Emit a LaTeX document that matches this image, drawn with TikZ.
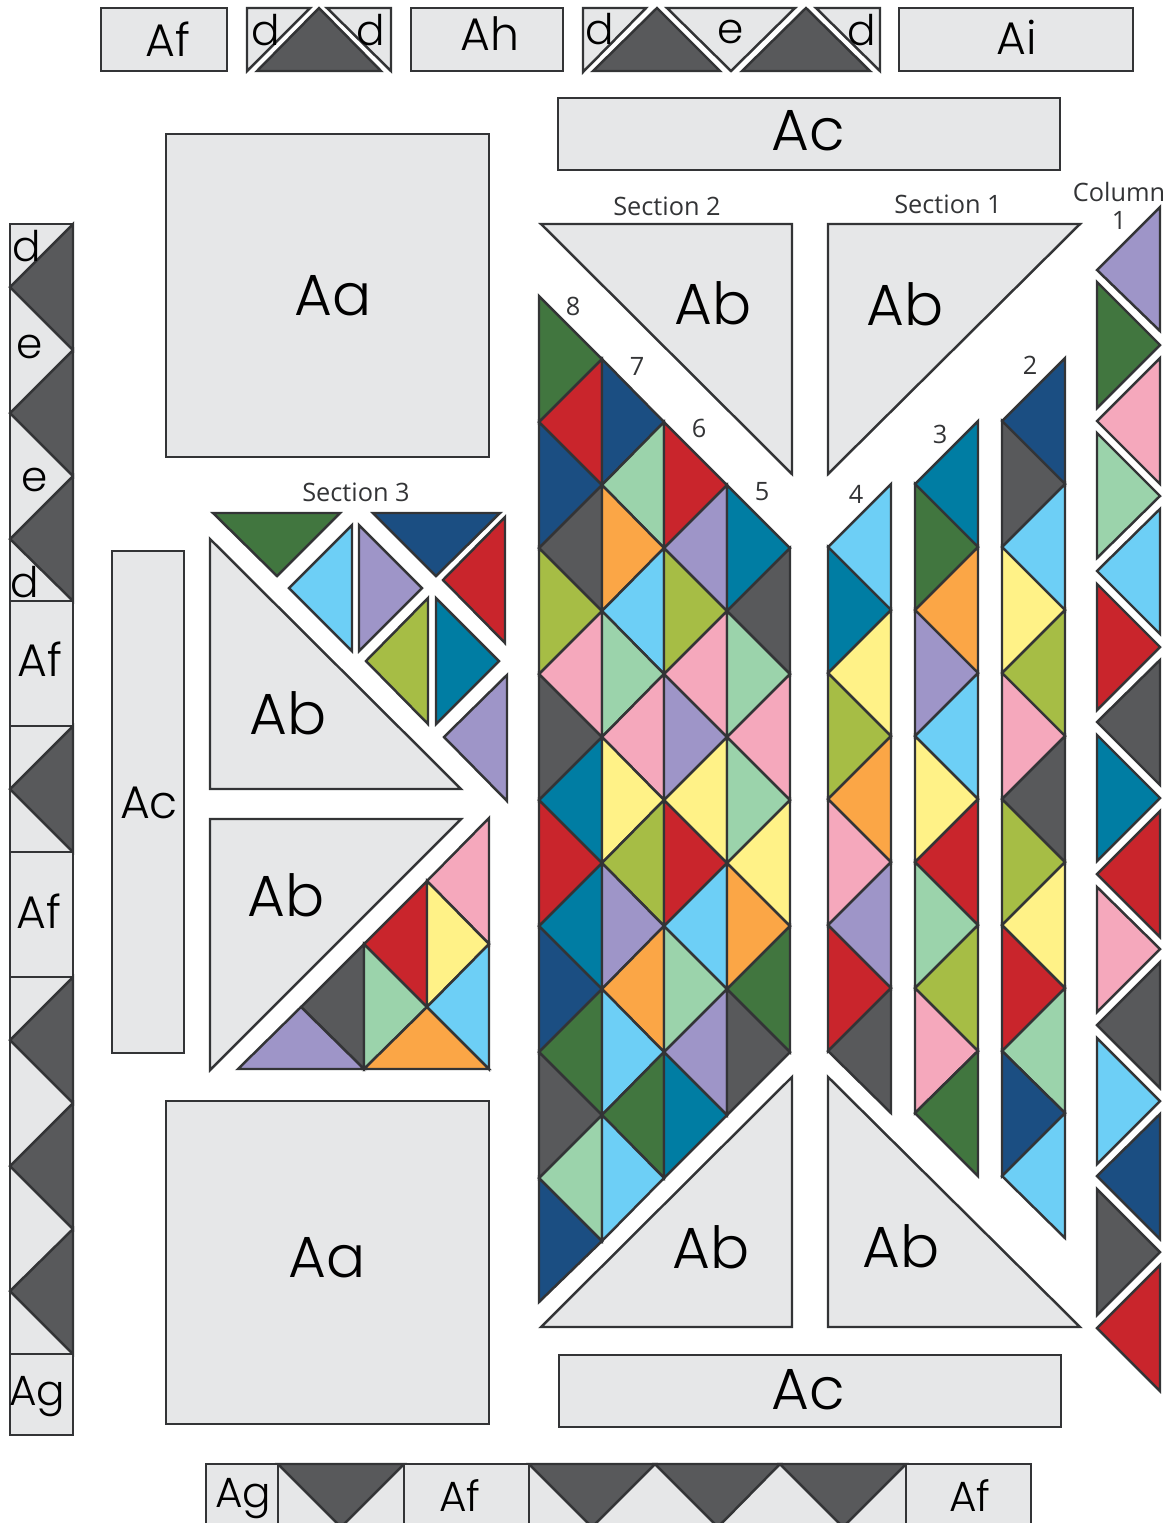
\documentclass[tikz,border=0pt]{standalone}
\usepackage{fontspec}
\setmainfont{Open Sans}
\newfontfamily\tagfont{Poppins Light}
\definecolor{edge}{HTML}{333436}
\definecolor{plain}{HTML}{E6E7E8}
\definecolor{slate}{HTML}{58595B}
\definecolor{forest}{HTML}{41763F}
\definecolor{scarlet}{HTML}{C9252C}
\definecolor{navy}{HTML}{1B4E82}
\definecolor{sea}{HTML}{007DA3}
\definecolor{sky}{HTML}{6DCFF6}
\definecolor{lilac}{HTML}{9E95C8}
\definecolor{lime}{HTML}{A6BD45}
\definecolor{rose}{HTML}{F5A8BC}
\definecolor{mint}{HTML}{9BD3AB}
\definecolor{amber}{HTML}{FBA646}
\definecolor{butter}{HTML}{FFF287}
\tikzset{
	patch/.style={draw=edge, line width=0.7pt, fill=#1},
	patch/.default=plain,
	bigtag/.style={inner sep=0pt, font=\tagfont\fontsize{16.5}{18}\selectfont},
	midtag/.style={inner sep=0pt, font=\tagfont\fontsize{13}{15}\selectfont},
	lowtag/.style={inner sep=0pt, font=\tagfont\fontsize{12}{14}\selectfont},
	smalltag/.style={inner sep=0pt, font=\fontsize{7.2}{8}\selectfont, text=edge},
}
\begin{document}
\begin{tikzpicture}[x=0.01cm, y=-0.01cm]
	\clip (0,0) rectangle (1170,1523);
	% Top strip:
	\draw[patch] (101,8) rectangle (227,71);
	\draw[patch] (247,8) -- (310,8) -- (247,71) -- cycle;
	\draw[patch=slate] (319,8) -- (381,71) -- (257,71) -- cycle;
	\draw[patch] (327,8) -- (391,8) -- (391,71) -- cycle;
	\draw[patch] (411,8) rectangle (563,71);
	\draw[patch] (583,8) -- (646,8) -- (583,72) -- cycle;
	\draw[patch=slate] (657,8) -- (720,71) -- (593,71) -- cycle;
	\draw[patch] (667,8) -- (795,8) -- (731,71) -- cycle;
	\draw[patch=slate] (806,8) -- (870,71) -- (742,71) -- cycle;
	\draw[patch] (816,8) -- (880,8) -- (880,71) -- cycle;
	\draw[patch] (899,8) rectangle (1133,71);
	% Plain blocks:
	\draw[patch] (558,98) rectangle (1060,170);
	\draw[patch] (559,1355) rectangle (1061,1427);
	\draw[patch] (112,551) rectangle (184,1053);
	\draw[patch] (166,134) rectangle (489,457);
	\draw[patch] (166,1101) rectangle (489,1424);
	\draw[patch] (541,224) -- (792,224) -- (792,474) -- cycle;
	\draw[patch] (828,224) -- (1080,224) -- (828,474) -- cycle;
	\draw[patch] (792,1077) -- (792,1327) -- (541,1327) -- cycle;
	\draw[patch] (828,1077) -- (1080,1327) -- (828,1327) -- cycle;
	\draw[patch] (210,539) -- (210,789) -- (461,789) -- cycle;
	\draw[patch] (210,819) -- (461,819) -- (210,1070) -- cycle;
	% Left strip:
	\draw[patch] (10,224) rectangle (73,601);
	\draw[patch=slate] (73,224) -- (73,350) -- (10,287) -- cycle;
	\draw[patch=slate] (73,350) -- (73,476) -- (10,413) -- cycle;
	\draw[patch=slate] (73,476) -- (73,601) -- (10,539) -- cycle;
	\draw[patch] (10,601) rectangle (73,726);
	\draw[patch] (10,726) rectangle (73,852);
	\draw[patch=slate] (73,726) -- (73,852) -- (10,789) -- cycle;
	\draw[patch] (10,852) rectangle (73,977);
	\draw[patch] (10,977) rectangle (73,1354);
	\draw[patch=slate] (73,977) -- (73,1103) -- (10,1040) -- cycle;
	\draw[patch=slate] (73,1103) -- (73,1229) -- (10,1166) -- cycle;
	\draw[patch=slate] (73,1229) -- (73,1354) -- (10,1291) -- cycle;
	\draw[patch] (10,1354) rectangle (73,1435);
	% Bottom strip:
	\draw[patch] (206,1464) rectangle (278,1535);
	\draw[patch] (278,1464) rectangle (404,1535);
	\draw[patch=slate] (278,1464) -- (404,1464) -- (341,1527) -- cycle;
	\draw[patch] (404,1464) rectangle (529,1535);
	\draw[patch] (529,1464) rectangle (906,1535);
	\draw[patch=slate] (529,1464) -- (655,1464) -- (592,1527) -- cycle;
	\draw[patch=slate] (655,1464) -- (780,1464) -- (718,1527) -- cycle;
	\draw[patch=slate] (780,1464) -- (906,1464) -- (843,1527) -- cycle;
	\draw[patch] (906,1464) rectangle (1031,1535);
	% Section 3:
	\draw[patch=forest] (213,513) -- (340,513) -- (277,576) -- cycle;
	\draw[patch=sky] (352,525) -- (352,651) -- (289,588) -- cycle;
	\draw[patch=lilac] (359,525) -- (359,651) -- (422,588) -- cycle;
	\draw[patch=navy] (373,513) -- (500,513) -- (436,576) -- cycle;
	\draw[patch=scarlet] (505,517) -- (505,643) -- (443,580) -- cycle;
	\draw[patch=lime] (428,598) -- (428,724) -- (366,661) -- cycle;
	\draw[patch=sea] (436,598) -- (436,724) -- (499,661) -- cycle;
	\draw[patch=lilac] (507,675) -- (507,801) -- (444,737) -- cycle;
	\draw[patch=rose] (489,818) -- (489,944) -- (427,881) -- cycle;
	\draw[patch=scarlet] (427,881) -- (427,1007) -- (364,944) -- cycle;
	\draw[patch=butter] (427,881) -- (427,1007) -- (489,944) -- cycle;
	\draw[patch=slate] (364,944) -- (364,1069) -- (301,1007) -- cycle;
	\draw[patch=mint] (364,944) -- (364,1069) -- (427,1007) -- cycle;
	\draw[patch=sky] (489,944) -- (489,1069) -- (427,1007) -- cycle;
	\draw[patch=amber] (364,1069) -- (489,1069) -- (427,1007) -- cycle;
	\draw[patch=lilac] (238,1069) -- (364,1069) -- (301,1007) -- cycle;
	% Section 2, row 8:
	\draw[patch=forest] (539,296) -- (602,359) -- (539,422) -- cycle;
	\draw[patch=scarlet] (602,359) -- (602,485) -- (539,422) -- cycle;
	\draw[patch=navy] (539,422) -- (539,548) -- (602,485) -- cycle;
	\draw[patch=slate] (602,485) -- (602,611) -- (539,548) -- cycle;
	\draw[patch=lime] (539,548) -- (539,674) -- (602,611) -- cycle;
	\draw[patch=rose] (602,611) -- (602,737) -- (539,674) -- cycle;
	\draw[patch=slate] (539,674) -- (539,800) -- (602,737) -- cycle;
	\draw[patch=sea] (602,737) -- (602,863) -- (539,800) -- cycle;
	\draw[patch=scarlet] (539,800) -- (539,926) -- (602,863) -- cycle;
	\draw[patch=sea] (602,863) -- (602,989) -- (539,926) -- cycle;
	\draw[patch=navy] (539,926) -- (539,1052) -- (602,989) -- cycle;
	\draw[patch=forest] (602,989) -- (602,1115) -- (539,1052) -- cycle;
	\draw[patch=slate] (539,1052) -- (539,1178) -- (602,1115) -- cycle;
	\draw[patch=mint] (602,1115) -- (602,1241) -- (539,1178) -- cycle;
	\draw[patch=navy] (539,1178) -- (539,1302) -- (602,1241) -- cycle;
	% Section 2, row 7:
	\draw[patch=navy] (602,359) -- (602,485) -- (664,422) -- cycle;
	\draw[patch=mint] (664,422) -- (664,548) -- (602,485) -- cycle;
	\draw[patch=amber] (602,485) -- (602,611) -- (664,548) -- cycle;
	\draw[patch=sky] (664,548) -- (664,674) -- (602,611) -- cycle;
	\draw[patch=mint] (602,611) -- (602,737) -- (664,674) -- cycle;
	\draw[patch=rose] (664,674) -- (664,800) -- (602,737) -- cycle;
	\draw[patch=butter] (602,737) -- (602,863) -- (664,800) -- cycle;
	\draw[patch=lime] (664,800) -- (664,926) -- (602,863) -- cycle;
	\draw[patch=lilac] (602,863) -- (602,989) -- (664,926) -- cycle;
	\draw[patch=amber] (664,926) -- (664,1052) -- (602,989) -- cycle;
	\draw[patch=sky] (602,989) -- (602,1115) -- (664,1052) -- cycle;
	\draw[patch=forest] (664,1052) -- (664,1178) -- (602,1115) -- cycle;
	\draw[patch=sky] (602,1115) -- (602,1241) -- (664,1178) -- cycle;
	% Section 2, row 6:
	\draw[patch=scarlet] (664,422) -- (664,548) -- (727,485) -- cycle;
	\draw[patch=lilac] (727,485) -- (727,611) -- (664,548) -- cycle;
	\draw[patch=lime] (664,548) -- (664,674) -- (727,611) -- cycle;
	\draw[patch=rose] (727,611) -- (727,737) -- (664,674) -- cycle;
	\draw[patch=lilac] (664,674) -- (664,800) -- (727,737) -- cycle;
	\draw[patch=butter] (727,737) -- (727,863) -- (664,800) -- cycle;
	\draw[patch=scarlet] (664,800) -- (664,926) -- (727,863) -- cycle;
	\draw[patch=sky] (727,863) -- (727,989) -- (664,926) -- cycle;
	\draw[patch=mint] (664,926) -- (664,1052) -- (727,989) -- cycle;
	\draw[patch=lilac] (727,989) -- (727,1115) -- (664,1052) -- cycle;
	\draw[patch=sea] (664,1052) -- (664,1178) -- (727,1115) -- cycle;
	% Section 2, row 5:
	\draw[patch=sea] (727,485) -- (727,611) -- (790,548) -- cycle;
	\draw[patch=slate] (790,548) -- (790,674) -- (727,611) -- cycle;
	\draw[patch=mint] (727,611) -- (727,737) -- (790,674) -- cycle;
	\draw[patch=rose] (790,674) -- (790,800) -- (727,737) -- cycle;
	\draw[patch=mint] (727,737) -- (727,863) -- (790,800) -- cycle;
	\draw[patch=butter] (790,800) -- (790,926) -- (727,863) -- cycle;
	\draw[patch=amber] (727,863) -- (727,989) -- (790,926) -- cycle;
	\draw[patch=forest] (790,926) -- (790,1052) -- (727,989) -- cycle;
	\draw[patch=slate] (727,989) -- (727,1115) -- (790,1052) -- cycle;
	% Section 1, row 4:
	\draw[patch=sky] (891,484) -- (891,610) -- (828,547) -- cycle;
	\draw[patch=sea] (828,547) -- (828,673) -- (891,610) -- cycle;
	\draw[patch=butter] (891,610) -- (891,736) -- (828,673) -- cycle;
	\draw[patch=lime] (828,673) -- (828,799) -- (891,736) -- cycle;
	\draw[patch=amber] (891,736) -- (891,862) -- (828,799) -- cycle;
	\draw[patch=rose] (828,799) -- (828,925) -- (891,862) -- cycle;
	\draw[patch=lilac] (891,862) -- (891,988) -- (828,925) -- cycle;
	\draw[patch=scarlet] (828,925) -- (828,1051) -- (891,988) -- cycle;
	\draw[patch=slate] (891,988) -- (891,1113) -- (828,1051) -- cycle;
	% Section 1, row 3:
	\draw[patch=sea] (978,421) -- (978,547) -- (915,484) -- cycle;
	\draw[patch=forest] (915,484) -- (915,610) -- (978,547) -- cycle;
	\draw[patch=amber] (978,547) -- (978,673) -- (915,610) -- cycle;
	\draw[patch=lilac] (915,610) -- (915,736) -- (978,673) -- cycle;
	\draw[patch=sky] (978,673) -- (978,799) -- (915,736) -- cycle;
	\draw[patch=butter] (915,736) -- (915,862) -- (978,799) -- cycle;
	\draw[patch=scarlet] (978,799) -- (978,925) -- (915,862) -- cycle;
	\draw[patch=mint] (915,862) -- (915,988) -- (978,925) -- cycle;
	\draw[patch=lime] (978,925) -- (978,1051) -- (915,988) -- cycle;
	\draw[patch=rose] (915,988) -- (915,1113) -- (978,1051) -- cycle;
	\draw[patch=forest] (978,1051) -- (978,1176) -- (915,1113) -- cycle;
	% Section 1, row 2:
	\draw[patch=navy] (1065,358) -- (1065,484) -- (1002,421) -- cycle;
	\draw[patch=slate] (1002,421) -- (1002,547) -- (1065,484) -- cycle;
	\draw[patch=sky] (1065,484) -- (1065,610) -- (1002,547) -- cycle;
	\draw[patch=butter] (1002,547) -- (1002,673) -- (1065,610) -- cycle;
	\draw[patch=lime] (1065,610) -- (1065,736) -- (1002,673) -- cycle;
	\draw[patch=rose] (1002,673) -- (1002,799) -- (1065,736) -- cycle;
	\draw[patch=slate] (1065,736) -- (1065,862) -- (1002,799) -- cycle;
	\draw[patch=lime] (1002,799) -- (1002,925) -- (1065,862) -- cycle;
	\draw[patch=butter] (1065,862) -- (1065,988) -- (1002,925) -- cycle;
	\draw[patch=scarlet] (1002,925) -- (1002,1051) -- (1065,988) -- cycle;
	\draw[patch=mint] (1065,988) -- (1065,1113) -- (1002,1051) -- cycle;
	\draw[patch=navy] (1002,1051) -- (1002,1176) -- (1065,1113) -- cycle;
	\draw[patch=sky] (1065,1113) -- (1065,1238) -- (1002,1176) -- cycle;
	% Column 1:
	\draw[patch=lilac] (1160,207) -- (1160,331) -- (1097,270) -- cycle;
	\draw[patch=forest] (1097,282) -- (1097,408) -- (1160,345) -- cycle;
	\draw[patch=rose] (1160,358) -- (1160,484) -- (1097,421) -- cycle;
	\draw[patch=mint] (1097,433) -- (1097,558) -- (1160,496) -- cycle;
	\draw[patch=sky] (1160,509) -- (1160,634) -- (1097,571) -- cycle;
	\draw[patch=scarlet] (1097,584) -- (1097,710) -- (1160,647) -- cycle;
	\draw[patch=slate] (1160,660) -- (1160,785) -- (1097,722) -- cycle;
	\draw[patch=sea] (1097,735) -- (1097,861) -- (1160,798) -- cycle;
	\draw[patch=scarlet] (1160,811) -- (1160,937) -- (1097,874) -- cycle;
	\draw[patch=rose] (1097,887) -- (1097,1012) -- (1160,949) -- cycle;
	\draw[patch=slate] (1160,962) -- (1160,1088) -- (1097,1025) -- cycle;
	\draw[patch=sky] (1097,1038) -- (1097,1164) -- (1160,1101) -- cycle;
	\draw[patch=navy] (1160,1114) -- (1160,1239) -- (1097,1176) -- cycle;
	\draw[patch=slate] (1097,1189) -- (1097,1315) -- (1160,1252) -- cycle;
	\draw[patch=scarlet] (1160,1265) -- (1160,1391) -- (1097,1328) -- cycle;
	% Labels:
	\node[midtag] (afone) at (168,39) {Af};
	\node[lowtag] (dtopa) at (266,30) {d};
	\node[lowtag] (dtopb) at (371,30) {d};
	\node[midtag] (ah) at (490,34) {Ah};
	\node[lowtag] (dtopc) at (600,29) {d};
	\node[lowtag] (etop) at (731,32) {e};
	\node[lowtag] (dtopd) at (862,30) {d};
	\node[midtag] (ai) at (1017,37) {Ai};
	\node[bigtag] (actop) at (808,131) {Ac};
	\node[bigtag] (acbot) at (808,1390) {Ac};
	\node[midtag] (acleft) at (149,803) {Ac};
	\node[bigtag] (aatop) at (333,296) {Aa};
	\node[bigtag] (aabot) at (327,1258) {Aa};
	\node[bigtag] (absa) at (713,303) {Ab};
	\node[bigtag] (absb) at (905,304) {Ab};
	\node[bigtag] (absc) at (711,1247) {Ab};
	\node[bigtag] (absd) at (901,1246) {Ab};
	\node[bigtag] (abse) at (288,713) {Ab};
	\node[bigtag] (absf) at (286,895) {Ab};
	\node[lowtag] (dlefta) at (27,246) {d};
	\node[lowtag] (elefta) at (30,347) {e};
	\node[lowtag] (eleftb) at (35,480) {e};
	\node[lowtag] (dleftb) at (25,582) {d};
	\node[midtag] (afleft) at (40,659) {Af};
	\node[midtag] (afleftb) at (39,911) {Af};
	\node[lowtag] (agleft) at (37,1397) {Ag};
	\node[lowtag] (agbot) at (243,1499) {Ag};
	\node[lowtag] (afbota) at (460,1496) {Af};
	\node[lowtag] (afbotb) at (970,1496) {Af};
	\node[smalltag] (secone) at (948,204) {Section 1};
	\node[smalltag] (sectwo) at (667,206) {Section 2};
	\node[smalltag] (secthree) at (356,492) {Section 3};
	\node[smalltag] (colname) at (1119,192) {Column};
	\node[smalltag] (colnum) at (1119,220) {1};
	\node[smalltag] (numtwo) at (1030,365) {2};
	\node[smalltag] (numthree) at (940,434) {3};
	\node[smalltag] (numfour) at (856,494) {4};
	\node[smalltag] (numfive) at (762,492) {5};
	\node[smalltag] (numsix) at (699,428) {6};
	\node[smalltag] (numseven) at (637,366) {7};
	\node[smalltag] (numeight) at (573,306) {8};
\end{tikzpicture}
\end{document}
